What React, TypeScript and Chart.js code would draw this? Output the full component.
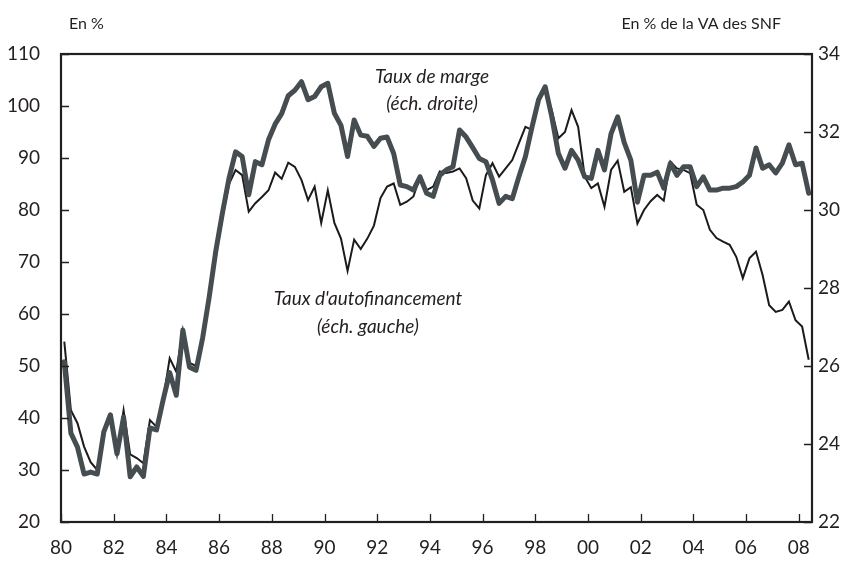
import React, { useEffect, useRef } from "react";
import { Chart, registerables } from "chart.js";

Chart.register(...registerables);

// Quarterly series, 1980Q1 .. 2008Q2
const firstYear = 1980;

// Taux de marge (right scale, % of VA des SNF)
const tauxDeMarge = [
  26.11, 24.28, 23.92, 23.23, 23.28, 23.23, 24.31, 24.75, 23.75, 24.69, 23.16, 23.41,
  23.17, 24.41, 24.36, 25.13, 25.83, 25.25, 26.92, 25.97, 25.89, 26.72, 27.77, 28.95,
  29.92, 30.81, 31.49, 31.37, 30.39, 31.24, 31.16, 31.8, 32.2, 32.47, 32.93, 33.07,
  33.29, 32.83, 32.91, 33.16, 33.25, 32.48, 32.17, 31.37, 32.31, 31.92, 31.89, 31.63,
  31.84, 31.87, 31.45, 30.64, 30.6, 30.51, 30.85, 30.43, 30.35, 30.89, 31.03, 31.11,
  32.05, 31.87, 31.6, 31.32, 31.24, 30.77, 30.17, 30.35, 30.29, 30.85, 31.37, 32.13,
  32.83, 33.16, 32.39, 31.45, 31.07, 31.53, 31.28, 30.85, 30.81, 31.53, 31.03, 31.96,
  32.39, 31.73, 31.28, 30.2, 30.89, 30.89, 30.97, 30.56, 31.2, 30.89, 31.11, 31.11,
  30.6, 30.85, 30.51, 30.51, 30.56, 30.56, 30.6, 30.72, 30.89, 31.59, 31.07, 31.16,
  30.95, 31.2, 31.67, 31.16, 31.2, 30.43,
];

// Taux d'autofinancement (left scale, %)
const tauxAutofinancement = [
  54.7, 41.5, 39, 34.5, 31.5, 30, 37.3, 40, 33, 41.5, 33, 32.3,
  31.3, 39.6, 38.3, 43.5, 51.5, 48.9, 56.9, 50.6, 50, 55, 63, 71,
  78.5, 85, 87.7, 86.7, 79.7, 81.3, 82.5, 83.8, 87.2, 86, 89.1, 88.3,
  85.8, 81.9, 84.5, 77.5, 83.8, 77.5, 74.5, 68.3, 74.3, 72.5, 74.5, 77,
  82.3, 84.5, 85.1, 81, 81.6, 82.6, 86.4, 83.8, 84.5, 87.4, 87.1, 87.4,
  88, 86.1, 81.8, 80.3, 86.7, 89, 86.4, 88, 89.6, 92.8, 96, 95.4,
  101.2, 103, 99.2, 93.8, 95, 99.2, 96, 86.4, 84.2, 85.1, 80.6, 87.7,
  89.5, 83.5, 84.4, 77.4, 80, 81.7, 82.9, 81.8, 89.3, 88, 87.7, 87.1,
  81, 80, 76.2, 74.6, 73.9, 73.3, 71, 66.9, 70.7, 72, 67.5, 61.7,
  60.4, 60.8, 62.4, 58.8, 57.6, 51.2,
];

const xTickYears = [1980, 1982, 1984, 1986, 1988, 1990, 1992, 1994, 1996, 1998, 2000, 2002, 2004, 2006, 2008];
const leftTicks = [20, 30, 40, 50, 60, 70, 80, 90, 100, 110];
const rightTicks = [22, 24, 26, 28, 30, 32, 34];

const leftTitle = "En %";
const rightTitle = "En % de la VA des SNF";
const margeLabel = ["Taux de marge", "(éch. droite)"];
const autofinLabel = ["Taux d'autofinancement", "(éch. gauche)"];

const FONT = "Lato, 'Open Sans', sans-serif";
const INK = "#231f20";

const toPoints = (vals: number[]) =>
  vals.map((v, i) => ({ x: firstYear + (i + 0.5) / 4, y: v }));

const framePlugin = {
  id: "frame",
  afterDatasetsDraw(chart: any) {
    const { ctx, chartArea, scales } = chart;
    const { left, right, top, bottom } = chartArea;
    ctx.save();
    ctx.strokeStyle = INK;
    ctx.lineWidth = 1.3;
    ctx.beginPath();
    for (const v of xTickYears) {
      const x = Math.round(scales.x.getPixelForValue(v)) + 0.5;
      ctx.moveTo(x, bottom);
      ctx.lineTo(x, bottom - 8);
    }
    for (const v of leftTicks) {
      const y = Math.round(scales.yL.getPixelForValue(v)) + 0.5;
      ctx.moveTo(left, y);
      ctx.lineTo(left + 8, y);
    }
    for (const v of rightTicks) {
      const y = Math.round(scales.yR.getPixelForValue(v)) + 0.5;
      ctx.moveTo(right, y);
      ctx.lineTo(right - 8, y);
    }
    ctx.stroke();
    ctx.lineWidth = 2.2;
    ctx.strokeRect(left, top, right - left, bottom - top);

    // axis titles
    ctx.fillStyle = INK;
    ctx.font = `16px ${FONT}`;
    ctx.textBaseline = "middle";
    ctx.textAlign = "left";
    ctx.fillText(leftTitle, 69, 24);
    ctx.textAlign = "right";
    ctx.fillText(rightTitle, 781, 24);

    // series annotations
    ctx.font = `italic 19px ${FONT}`;
    ctx.textAlign = "center";
    const mx = scales.x.getPixelForValue(1994.08);
    ctx.fillText(margeLabel[0], mx, scales.yL.getPixelForValue(105.6));
    ctx.fillText(margeLabel[1], mx, scales.yL.getPixelForValue(100.4));
    const ax = scales.x.getPixelForValue(1991.65);
    ctx.fillText(autofinLabel[0], ax, scales.yL.getPixelForValue(62.9));
    ctx.fillText(autofinLabel[1], ax, scales.yL.getPixelForValue(57.5));
    ctx.restore();
  },
};

export default function App() {
  const ref = useRef<HTMLCanvasElement | null>(null);

  useEffect(() => {
    document.body.style.margin = "0";
    const canvas = ref.current;
    if (!canvas) return;
    const tickFont = { family: FONT, size: 19 };
    const chart = new Chart(canvas, {
      type: "line",
      data: {
        datasets: [
          {
            label: "Taux de marge",
            data: toPoints(tauxDeMarge),
            yAxisID: "yR",
            borderColor: "#454d50",
            borderWidth: 5,
            pointRadius: 0,
            tension: 0,
            borderJoinStyle: "round",
            borderCapStyle: "round",
          },
          {
            label: "Taux d'autofinancement",
            data: toPoints(tauxAutofinancement),
            yAxisID: "yL",
            borderColor: "#1c1a1b",
            borderWidth: 2,
            pointRadius: 0,
            tension: 0,
          },
        ],
      },
      options: {
        responsive: false,
        animation: false,
        layout: { padding: { top: 54, left: 0, right: 0, bottom: 0 } },
        plugins: { legend: { display: false }, tooltip: { enabled: false } },
        scales: {
          x: {
            type: "linear",
            min: 1980,
            max: 2008.5,
            grid: { display: false, drawTicks: false },
            border: { display: false },
            afterBuildTicks: (s: any) => {
              s.ticks = xTickYears.map((v) => ({ value: v }));
            },
            afterFit: (s: any) => {
              s.height = 41;
            },
            ticks: {
              font: tickFont,
              color: INK,
              padding: 14,
              maxRotation: 0,
              autoSkip: false,
              callback: (v: any) => String(Number(v) % 100).padStart(2, "0"),
            },
          },
          yL: {
            type: "linear",
            position: "left",
            min: 20,
            max: 110,
            grid: { display: false, drawTicks: false },
            border: { display: false },
            afterBuildTicks: (s: any) => {
              s.ticks = leftTicks.map((v) => ({ value: v }));
            },
            afterFit: (s: any) => {
              s.width = 61;
            },
            ticks: { font: tickFont, color: INK, padding: 21 },
          },
          yR: {
            type: "linear",
            position: "right",
            min: 22,
            max: 34,
            grid: { display: false, drawTicks: false },
            border: { display: false },
            afterBuildTicks: (s: any) => {
              s.ticks = rightTicks.map((v) => ({ value: v }));
            },
            afterFit: (s: any) => {
              s.width = 41;
            },
            ticks: { font: tickFont, color: INK, padding: 6 },
          },
        },
      },
      plugins: [framePlugin],
    });
    return () => chart.destroy();
  }, []);

  return (
    <div style={{ width: 853, height: 563, background: "#fff" }}>
      <canvas ref={ref} width={853} height={563} />
    </div>
  );
}
